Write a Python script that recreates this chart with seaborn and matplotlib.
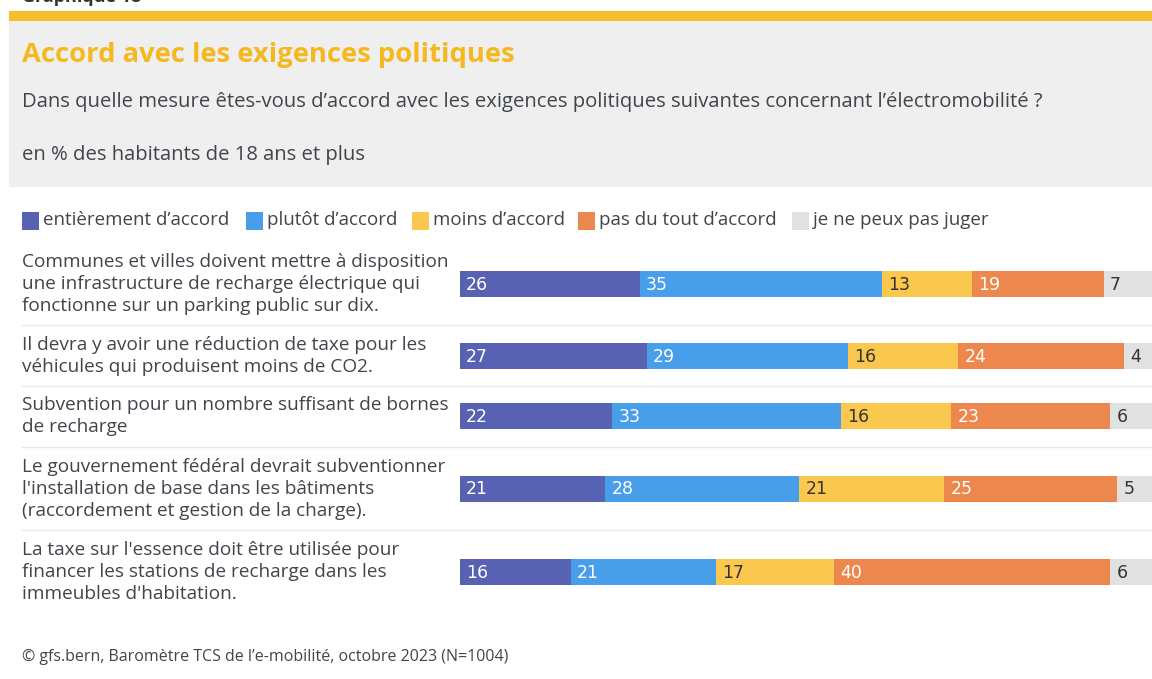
import matplotlib
matplotlib.use("Agg")
import matplotlib.pyplot as plt
from matplotlib.patches import Rectangle
import numpy as np
import pandas as pd
import seaborn as sns

# ---- data ---------------------------------------------------------------
statements = [
    "Communes et villes doivent mettre à disposition\nune infrastructure de recharge électrique qui\nfonctionne sur un parking public sur dix.",
    "Il devra y avoir une réduction de taxe pour les\nvéhicules qui produisent moins de CO2.",
    "Subvention pour un nombre suffisant de bornes\nde recharge",
    "Le gouvernement fédéral devrait subventionner\nl'installation de base dans les bâtiments\n(raccordement et gestion de la charge).",
    "La taxe sur l'essence doit être utilisée pour\nfinancer les stations de recharge dans les\nimmeubles d'habitation.",
]
answers = ["entièrement d’accord", "plutôt d’accord", "moins d’accord",
           "pas du tout d’accord", "je ne peux pas juger"]
entierement = [26, 27, 22, 21, 16]
plutot = [35, 29, 33, 28, 21]
moins = [13, 16, 16, 21, 17]
pas_du_tout = [19, 24, 23, 25, 40]
ne_peut_juger = [7, 4, 6, 5, 6]

# ---- styling ------------------------------------------------------------
sns.set_theme(style="white")
plt.rcParams["font.family"] = ["Open Sans", "DejaVu Sans"]

colors = ["#5862B3", "#489EE8", "#FBC84F", "#EC884E", "#E1E1E1"]
label_colors = ["white", "white", "#333333", "white", "#333333"]
text_col = "#40454C"
title_col = "#F6B820"

W, H = 1152, 679
fig = plt.figure(figsize=(W / 100, H / 100), dpi=100)
fig.patch.set_facecolor("white")

# background layer in pixel coordinates (header, legend, row labels)
bg = fig.add_axes([0, 0, 1, 1])
bg.set_xlim(0, W)
bg.set_ylim(H, 0)
bg.axis("off")

bg.text(22, 1.5, "Graphique 18", fontsize=13, fontweight="bold", color="#333333",
        va="baseline", ha="left")
bg.add_patch(Rectangle((9, 11), W - 9, 10, color="#F8BD2B", lw=0))
bg.add_patch(Rectangle((9, 21), W - 9, 166, color="#EFEFEF", lw=0))
bg.text(22, 55, "Accord avec les exigences politiques", fontsize=19.7,
        fontweight="bold", color=title_col, va="center", ha="left")
bg.text(22, 102, "Dans quelle mesure êtes-vous d’accord avec les exigences "
        "politiques suivantes concernant l’électromobilité ?",
        fontsize=14.6, color=text_col, va="center", ha="left")
bg.text(22, 155, "en % des habitants de 18 ans et plus", fontsize=14.6,
        color=text_col, va="center", ha="left")

# legend
legend_x = [22, 246, 412, 578, 792]
for lx, name, c in zip(legend_x, answers, colors):
    bg.add_patch(Rectangle((lx, 212), 17, 18, color=c, lw=0))
    bg.text(lx + 21, 220, name, fontsize=13.5, color=text_col,
            va="center", ha="left")

# row positions (pixel rows) and separators
row_y = np.array([284, 356, 416, 489, 572])
for sy in [325, 386, 447, 530]:
    bg.plot([22, W], [sy, sy], color="#E8E8E8", lw=1)

for y, s in zip(row_y, statements):
    bg.text(22, y, s, fontsize=13.7, color=text_col, va="center", ha="left",
            linespacing=1.28)

bg.text(22, 657, "© gfs.bern, Baromètre TCS de l’e-mobilité, octobre 2023 (N=1004)",
        fontsize=11.5, color=text_col, va="center", ha="left")

# ---- stacked bars -------------------------------------------------------
x0 = 460
ax = fig.add_axes([x0 / W, 0, (W - x0) / W, 1])
ax.patch.set_alpha(0)

series = [entierement, plutot, moins, pas_du_tout, ne_peut_juger]
vals = np.array(series, dtype=float)          # segments x rows
right = np.cumsum(vals, axis=0)
left = right - vals

df = pd.DataFrame({
    "row": np.tile(np.arange(len(statements)), len(answers)),
    "y": np.tile(row_y, len(answers)),
    "answer": np.repeat(answers, len(statements)),
    "value": vals.ravel(),
    "left": left.ravel(),
    "right": right.ravel(),
})

bar_px = 26
width = bar_px / np.diff(np.sort(row_y)).min()
# draw cumulative totals from the outermost segment inwards
for k in range(len(answers) - 1, -1, -1):
    sub = df[df["answer"] == answers[k]]
    sns.barplot(data=sub, x="right", y="y", orient="h", native_scale=True,
                width=width, color=colors[k], saturation=1, errorbar=None,
                linewidth=0, edgecolor="none", ax=ax)

for k in range(len(answers)):
    sub = df[df["answer"] == answers[k]]
    for _, r in sub.iterrows():
        ax.text(r["left"] + 0.9, r["y"] + 0.5, f"{int(r['value'])}",
                fontsize=12.5, color=label_colors[k], va="center", ha="left",
                family=["Liberation Sans Narrow", "DejaVu Sans"])

ax.set_xlim(0, 100)
ax.set_ylim(H, 0)
ax.axis("off")

fig.savefig("out.png", dpi=100)
